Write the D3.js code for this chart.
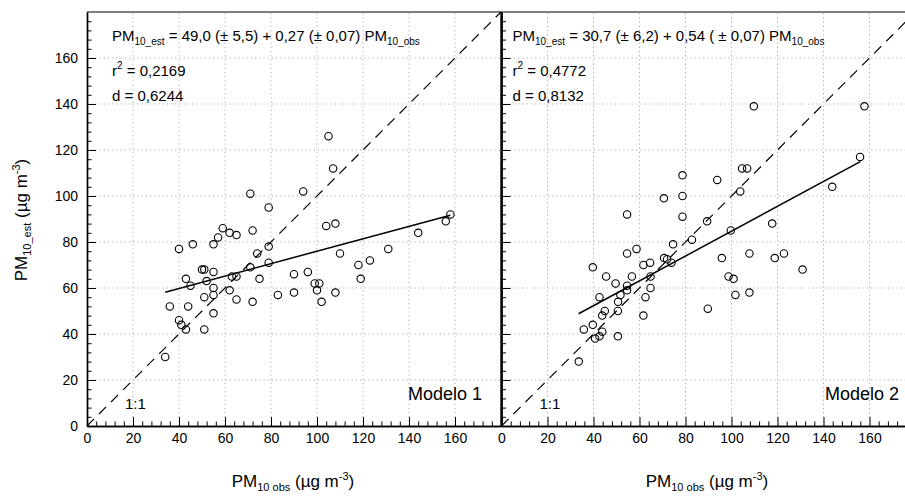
<!DOCTYPE html>
<html>
<head>
<meta charset="utf-8">
<script src="https://cdn.jsdelivr.net/npm/d3@7"></script>
<style>
  body { margin: 0; background: #fff; }
  svg { display: block; font-family: "Liberation Sans", Arial, Helvetica, sans-serif; }
</style>
</head>
<body>
<svg id="chart" width="905" height="497"></svg>
<script>
// Modelo 1: observed vs estimated PM10
const obs1 = [34, 36, 40, 41, 43, 44, 43, 45, 40, 46, 50, 51, 51, 51, 52, 55, 55, 55, 55, 55,
  57, 59, 62, 65, 62, 63, 65, 65, 71, 71, 72, 72, 74, 75, 79, 79, 79, 83, 90, 90,
  94, 96, 99, 101, 100, 102, 104, 105, 107, 108, 108, 110, 118, 119, 123, 131, 144, 156, 158];
const est1 = [30, 52, 46, 44, 42, 52, 64, 61, 77, 79, 68, 68, 56, 42, 63, 67, 60, 57, 49, 79,
  82, 86, 84, 83, 59, 65, 65, 55, 69, 101, 85, 54, 75, 64, 95, 78, 71, 57, 66, 58,
  102, 67, 62, 62, 59, 54, 87, 126, 112, 88, 58, 75, 70, 64, 72, 77, 84, 89, 92];

// Modelo 2
const obs2 = [33.6, 35.8, 39.7, 40.7, 42.6, 43.8, 43.8, 44.9, 42.6, 39.7, 45.5, 49.6, 50.6, 50.6,
  50.7, 51.7, 54.6, 54.6, 54.6, 54.6, 56.7, 58.7, 61.7, 61.7, 62.6, 64.6, 64.8, 64.8, 70.6,
  70.7, 72, 73.9, 74.6, 78.7, 78.7, 78.7, 82.8, 89.4, 89.7, 93.8, 95.8, 98.7, 100.9, 99.7,
  101.7, 103.8, 104.6, 106.8, 107.8, 107.8, 109.7, 117.7, 118.8, 122.8, 130.9, 143.8, 155.9, 157.8];
const est2 = [28, 42, 44, 38, 39, 41, 48, 50, 56, 69, 65, 62, 50, 39,
  54, 57, 61, 59, 75, 92, 65, 77, 70, 48, 56, 71, 65, 60, 99,
  73, 72.5, 71, 79, 109, 100, 91, 81, 89, 51, 107, 73, 65, 64, 85,
  57, 102, 112, 112, 75, 58, 139, 88, 73, 75, 68, 104, 117, 139];

// regression fits: [intercept, slope] and the obs span they cover
const fitCoef = [[49.0, 0.27], [30.7, 0.54]];
const fitSpan = [[34, 158], [33.5, 156]];

const eqText = [
  [["PM"], ["10_est", 1], [" = 49,0 (± 5,5) + 0,27 (± 0,07) PM"], ["10_obs", 1]],
  [["PM"], ["10_est", 1], [" = 30,7 (± 6,2) + 0,54 ( ± 0,07) PM"], ["10_obs", 1]]
];
const r2Text = ["0,2169", "0,4772"];
const dText = ["0,6244", "0,8132"];
const modelNames = ["Modelo 1", "Modelo 2"];

const axisMax = 180;
const majorTicks = d3.range(0, 180, 20);
const minorTicks = d3.range(0, 181, 4).filter(v => v % 20 !== 0);

const svg = d3.select("#chart");
const y = d3.scaleLinear().domain([0, axisMax]).range([426, 12]);

const panels = [
  { obs: obs1, est: est1, range: [87, 501], eqX: 25 },
  { obs: obs2, est: est2, range: [501.5, 915.5], eqX: 11 }
];

// parts: [text, kind] with kind 1 = subscript, 2 = superscript
function richText(sel, parts, size, subSize) {
  let off = 0;
  parts.forEach(p => {
    const target = p[1] === 1 ? 4 : p[1] === 2 ? -7 : 0;
    sel.append("tspan")
      .attr("font-size", p[1] ? subSize : size)
      .attr("dy", target - off)
      .text(p[0]);
    off = target;
  });
}

panels.forEach((p, i) => {
  const x = d3.scaleLinear().domain([0, axisMax]).range(p.range);
  const g = svg.append("g");

  // dotted grid
  g.append("g").selectAll("line")
    .data(majorTicks.filter(v => v > 0))
    .join("line")
    .attr("x1", d => x(d)).attr("x2", d => x(d))
    .attr("y1", y(0)).attr("y2", y(axisMax))
    .attr("stroke", "#aaa").attr("stroke-width", 1).attr("stroke-dasharray", "1.2,3");
  g.append("g").selectAll("line")
    .data(majorTicks.filter(v => v > 0))
    .join("line")
    .attr("x1", x(0)).attr("x2", x(axisMax))
    .attr("y1", d => y(d)).attr("y2", d => y(d))
    .attr("stroke", "#aaa").attr("stroke-width", 1).attr("stroke-dasharray", "1.2,3");

  // 1:1 line
  g.append("line")
    .attr("x1", x(0)).attr("y1", y(0))
    .attr("x2", x(axisMax)).attr("y2", y(axisMax))
    .attr("stroke", "#000").attr("stroke-width", 1.2).attr("stroke-dasharray", "10,7");

  // regression
  const [a, b] = fitCoef[i];
  g.append("line")
    .attr("x1", x(fitSpan[i][0])).attr("y1", y(a + b * fitSpan[i][0]))
    .attr("x2", x(fitSpan[i][1])).attr("y2", y(a + b * fitSpan[i][1]))
    .attr("stroke", "#000").attr("stroke-width", 1.5);

  // points
  g.append("g").selectAll("circle")
    .data(p.obs.map((o, k) => [o, p.est[k]]))
    .join("circle")
    .attr("cx", d => x(d[0])).attr("cy", d => y(d[1]))
    .attr("r", 3.7)
    .attr("fill", "none").attr("stroke", "#000").attr("stroke-width", 1.1);

  // axes
  const xMinor = g.append("g").attr("transform", `translate(0,${y(0)})`)
    .call(d3.axisBottom(x).tickValues(minorTicks).tickSizeInner(-4.5).tickSizeOuter(0).tickFormat(""));
  const xMajor = g.append("g").attr("transform", `translate(0,${y(0)})`)
    .call(d3.axisBottom(x).tickValues(majorTicks).tickSizeInner(-9).tickSizeOuter(0).tickPadding(7));
  const yMinor = g.append("g").attr("transform", `translate(${x(0)},0)`)
    .call(d3.axisLeft(y).tickValues(minorTicks).tickSizeInner(-4.5).tickSizeOuter(0).tickFormat(""));
  const yMajor = g.append("g").attr("transform", `translate(${x(0)},0)`)
    .call(d3.axisLeft(y).tickValues(majorTicks).tickSizeInner(-9).tickSizeOuter(0).tickPadding(9)
      .tickFormat(i === 0 ? d3.format("d") : ""));
  [xMinor, xMajor, yMinor, yMajor].forEach(ax => {
    ax.selectAll("path").attr("stroke-width", 1.4);
    ax.selectAll("line").attr("stroke-width", 1);
    ax.selectAll("text").attr("font-size", 14).attr("fill", "#000")
      .attr("font-family", "Liberation Sans, Arial, sans-serif");
  });

  // annotations
  const eq = g.append("text").attr("x", x(0) + p.eqX).attr("y", 41).attr("fill", "#000");
  richText(eq, eqText[i], 15, 10);
  const r2 = g.append("text").attr("x", x(0) + p.eqX).attr("y", 76);
  richText(r2, [["r"], ["2", 2], [" = " + r2Text[i]]], 15, 10);
  g.append("text").attr("x", x(0) + p.eqX).attr("y", 101).attr("font-size", 15).text("d = " + dText[i]);
  g.append("text").attr("x", x(0) + 38).attr("y", 409).attr("font-size", 15).text("1:1");
  g.append("text").attr("x", i === 0 ? 482 : 899).attr("y", 400).attr("text-anchor", "end")
    .attr("font-size", 18).text(modelNames[i]);

  // x title
  const xt = g.append("text").attr("x", i === 0 ? 293 : 707).attr("y", 487).attr("text-anchor", "middle");
  richText(xt, [["PM"], ["10 obs", 1], [" (µg m"], ["-3", 2], [")"]], 17, 11);
});

// top frame line and panel divider
svg.append("line").attr("x1", 87).attr("x2", 905).attr("y1", 12).attr("y2", 12)
  .attr("stroke", "#000").attr("stroke-width", 1.2);
svg.append("line").attr("x1", 501).attr("x2", 501).attr("y1", 12).attr("y2", 426)
  .attr("stroke", "#000").attr("stroke-width", 1.4);

// y title
const yt = svg.append("text").attr("transform", "translate(27,220) rotate(-90)").attr("text-anchor", "middle");
richText(yt, [["PM"], ["10_est", 1], ["  (µg m"], ["-3", 2], [")"]], 17, 11);
</script>
</body>
</html>
